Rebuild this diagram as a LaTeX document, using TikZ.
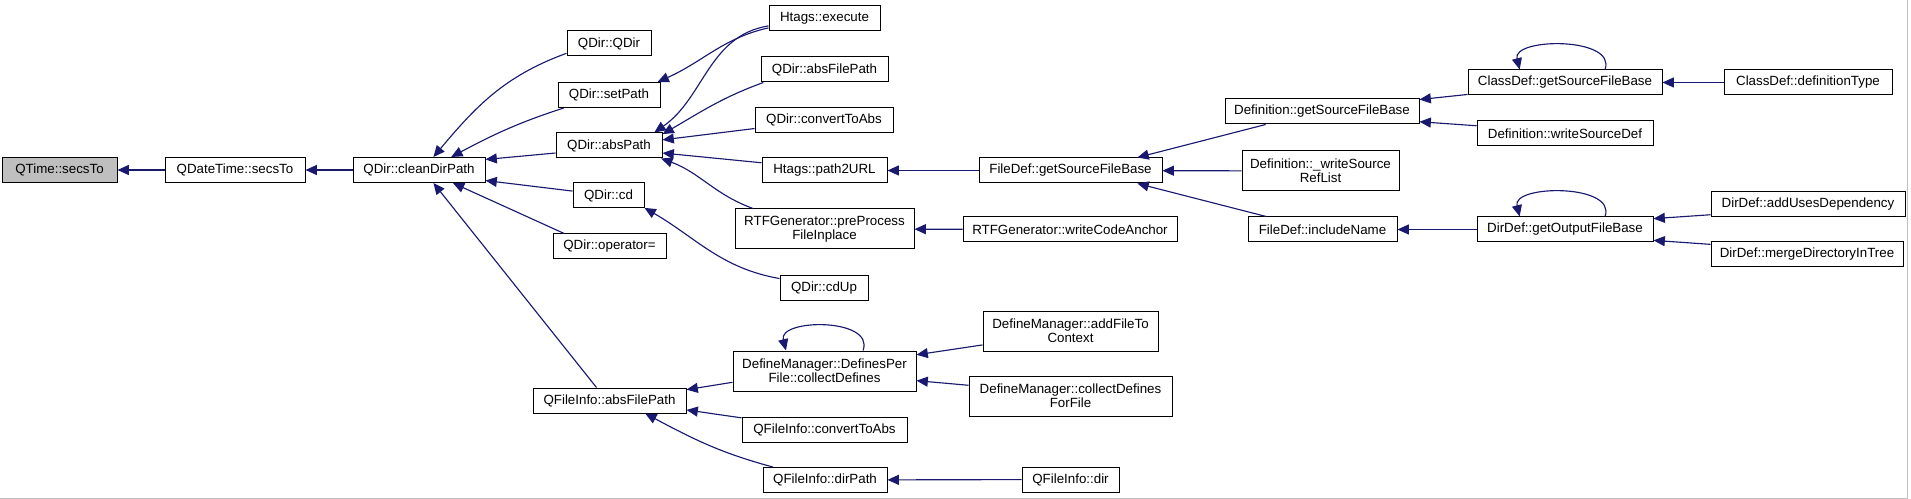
\documentclass[tikz,border=0pt]{standalone}
\usepackage{fontspec}
\setmainfont{Liberation Sans}
\usetikzlibrary{arrows.meta}

\definecolor{callblue}{HTML}{191970}
\definecolor{curgray}{HTML}{BFBFBF}

\tikzset{
  fn/.style={draw=black, fill=white, line width=0.75pt, inner sep=1pt,
    minimum height=18.75pt, font=\fontsize{10}{10.5}\selectfont},
  fn2/.style={fn, align=center, minimum height=30pt},
  wd/.style={minimum width=#1*0.75pt},
  calls/.style={draw=callblue, line width=0.85pt, -{Triangle[length=8.5pt,width=7.5pt]}},
}

\begin{document}
\begin{tikzpicture}[x=0.75pt, y=-0.75pt]
	\useasboundingbox (0,0) rectangle (1911,499);
	\draw[black!25, line width=0.75pt] (0,498) -- (1907,498) -- (1907,0);

	\node[fn, wd=115, fill=curgray]   (qtime)      at (59.5,170)   {QTime::secsTo};
	\node[fn, wd=140]                 (qdatetime)  at (235,170)    {QDateTime::secsTo};
	\node[fn, wd=132]                 (cleandir)   at (419,170)    {QDir::cleanDirPath};

	\node[fn, wd=84]                  (qdirctor)   at (609,43.5)   {QDir::QDir};
	\node[fn, wd=102]                 (setpath)    at (609,95)     {QDir::setPath};
	\node[fn, wd=106]                 (abspath)    at (609,145.5)  {QDir::absPath};
	\node[fn, wd=71]                  (cd)         at (608.5,195.5) {QDir::cd};
	\node[fn, wd=113]                 (opassign)   at (609.5,246.5) {QDir::operator=};
	\node[fn, wd=153]                 (fiabsfile)  at (609.5,400.5) {QFileInfo::absFilePath};

	\node[fn, wd=111]                 (execute)    at (824.5,18)   {Htags::execute};
	\node[fn, wd=127]                 (absfile)    at (824.5,69.5) {QDir::absFilePath};
	\node[fn, wd=138]                 (qdirconv)   at (824,120)    {QDir::convertToAbs};
	\node[fn, wd=125]                 (path2url)   at (824.5,170.5) {Htags::path2URL};
	\node[fn2, wd=179]                (preproc)    at (824.5,229)  {RTFGenerator::preProcess\\FileInplace};
	\node[fn, wd=88]                  (cdup)       at (824,288)    {QDir::cdUp};
	\node[fn2, wd=183]                (dpfcollect) at (824.5,371)  {DefineManager::DefinesPer\\File::collectDefines};
	\node[fn, wd=165]                 (ficonv)     at (824.5,429.5) {QFileInfo::convertToAbs};
	\node[fn, wd=124]                 (dirpath)    at (825,480)    {QFileInfo::dirPath};

	\node[fn, wd=183]                 (fdsrc)      at (1070.5,170.5) {FileDef::getSourceFileBase};
	\node[fn, wd=214]                 (wca)        at (1070,229.5) {RTFGenerator::writeCodeAnchor};
	\node[fn2, wd=175]                (addfile)    at (1070.5,331) {DefineManager::addFileTo\\Context};
	\node[fn2, wd=203]                (cdff)       at (1070.5,396) {DefineManager::collectDefines\\ForFile};
	\node[fn, wd=97]                  (fidir)      at (1070.5,479.5) {QFileInfo::dir};

	\node[fn, wd=194]                 (defsrc)     at (1322,111.5) {Definition::getSourceFileBase};
	\node[fn2, wd=157]                (wsrl)       at (1320.5,171) {Definition::\_writeSource\\RefList};
	\node[fn, wd=149]                 (incname)    at (1322.5,229.5) {FileDef::includeName};

	\node[fn, wd=194]                 (cdsrc)      at (1565,82.5)  {ClassDef::getSourceFileBase};
	\node[fn, wd=176]                 (wsdef)      at (1565,133.5) {Definition::writeSourceDef};
	\node[fn, wd=176]                 (dirout)     at (1565,229.5) {DirDef::getOutputFileBase};

	\node[fn, wd=168]                 (deftype)    at (1808,82.5)  {ClassDef::definitionType};
	\node[fn, wd=194]                 (adduses)    at (1808,204.5) {DirDef::addUsesDependency};
	\node[fn, wd=192]                 (mergedir)   at (1807,254.5) {DirDef::mergeDirectoryInTree};

	\draw[calls] (qdatetime) -- (qtime);
	\draw[calls] (cleandir) -- (qdatetime);

	\draw[calls] (qdirctor.193) to[out=200,in=50] (cleandir.42);
	\draw[calls] (setpath.196) to[out=198,in=28] (cleandir.22);
	\draw[calls] (abspath.188) -- (cleandir.9);
	\draw[calls] (cd.173) -- (cleandir.-9);
	\draw[calls] (opassign.164) -- (cleandir.-21);
	\draw[calls] (fiabsfile.135) -- (cleandir.-42);

	\draw[calls] (execute.190) .. controls +(-45,10) and +(45,-20) .. (setpath.15);
	\draw[calls] (execute.188) .. controls +(-60,10) and +(50,-35) .. (abspath.16);
	\draw[calls] (absfile.192) to[out=200,in=30] (abspath.12);
	\draw[calls] (qdirconv.187) -- (abspath.6);
	\draw[calls] (path2url.173) -- (abspath.-8);
	\draw[calls] (preproc.164) to[out=160,in=-20] (abspath.-14);
	\draw[calls] (cdup.168) to[out=170,in=-30] (cd.-19);

	\draw[calls] (fdsrc) -- (path2url);
	\draw[calls] (wca) -- (preproc);
	\draw[calls] (defsrc.193) -- (fdsrc.11);
	\draw[calls] (wsrl) -- (fdsrc);
	\draw[calls] (incname.167) -- (fdsrc.-11);

	\draw[calls] (cdsrc.187) -- (defsrc.7);
	\draw[calls] (cdsrc.18) .. controls +(12,-33) and +(-8,-32) .. (cdsrc.164); % self call
	\draw[calls] (wsdef.175) -- (defsrc.-6);
	\draw[calls] (deftype) -- (cdsrc);

	\draw[calls] (dirout) -- (incname);
	\draw[calls] (dirout.18) .. controls +(12,-33) and +(-8,-32) .. (dirout.164); % self call
	\draw[calls] (adduses.186) -- (dirout.7);
	\draw[calls] (mergedir.174) -- (dirout.-7);

	\draw[calls] (dpfcollect.187) -- (fiabsfile.8);
	\draw[calls] (dpfcollect.28) .. controls +(12,-33) and +(-8,-32) .. (dpfcollect.152); % self call
	\draw[calls] (addfile.189) -- (dpfcollect.10);
	\draw[calls] (cdff.174) -- (dpfcollect.-6);
	\draw[calls] (ficonv.172) -- (fiabsfile.-7);
	\draw[calls] (dirpath.166) to[out=165,in=-28] (fiabsfile.-20);
	\draw[calls] (fidir) -- (dirpath);
\end{tikzpicture}
\end{document}
